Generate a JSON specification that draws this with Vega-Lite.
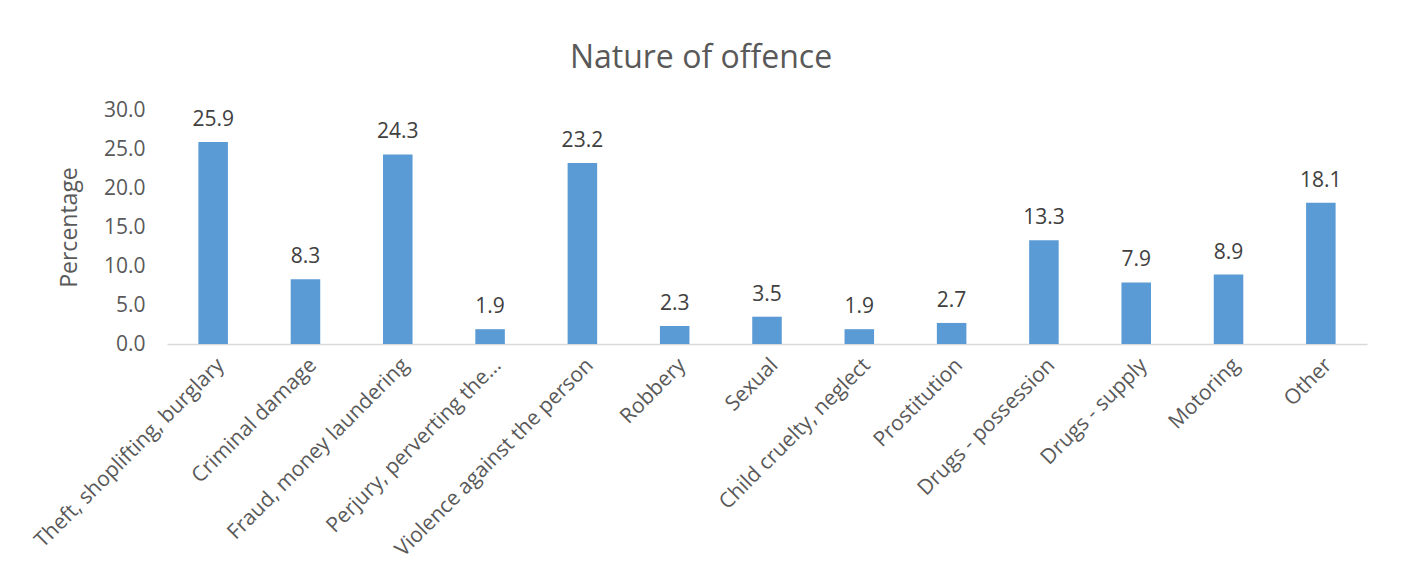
{
  "$schema": "https://vega.github.io/schema/vega-lite/v6.json",
  "width": 1200,
  "height": 234,
  "autosize": "none",
  "padding": {"left": 167, "top": 110, "right": 34, "bottom": 237},
  "background": "white",
  "config": {"view": {"stroke": null}, "font": "Open Sans"},
  "title": {
    "text": "Nature of offence",
    "fontSize": 32,
    "font": "Open Sans",
    "fontWeight": "normal",
    "color": "#595959",
    "anchor": "middle",
    "dx": -66,
    "offset": 24
  },
  "data": {
    "values": [
      {"offence": "Theft, shoplifting, burglary", "pct": 25.9},
      {"offence": "Criminal damage", "pct": 8.3},
      {"offence": "Fraud, money laundering", "pct": 24.3},
      {"offence": "Perjury, perverting the...", "pct": 1.9},
      {"offence": "Violence against the person", "pct": 23.2},
      {"offence": "Robbery", "pct": 2.3},
      {"offence": "Sexual", "pct": 3.5},
      {"offence": "Child cruelty, neglect", "pct": 1.9},
      {"offence": "Prostitution", "pct": 2.7},
      {"offence": "Drugs - possession", "pct": 13.3},
      {"offence": "Drugs - supply", "pct": 7.9},
      {"offence": "Motoring", "pct": 8.9},
      {"offence": "Other", "pct": 18.1}
    ]
  },
  "encoding": {
    "x": {
      "field": "offence",
      "type": "nominal",
      "sort": null,
      "scale": {"paddingInner": 0.68, "paddingOuter": 0.34},
      "axis": {
        "title": null,
        "labelAngle": -45,
        "labelFontSize": 21,
        "labelColor": "#595959",
        "labelPadding": 10,
        "labelLimit": 400,
        "ticks": false,
        "domainColor": "#D9D9D9",
        "domainWidth": 1.5
      }
    },
    "y": {
      "field": "pct",
      "type": "quantitative",
      "scale": {"domain": [0, 30]},
      "axis": {
        "title": "Percentage",
        "titleFontSize": 23,
        "titleFontWeight": "normal",
        "titleColor": "#595959",
        "titlePadding": 22,
        "values": [0, 5, 10, 15, 20, 25, 30],
        "format": ".1f",
        "labelFontSize": 21,
        "labelColor": "#595959",
        "labelPadding": 22,
        "grid": false,
        "domain": false,
        "ticks": false
      }
    }
  },
  "layer": [
    {"mark": {"type": "bar", "color": "#5B9BD5"}},
    {
      "mark": {"type": "text", "baseline": "bottom", "dy": -12, "fontSize": 21, "color": "#404040"},
      "encoding": {"text": {"field": "pct", "type": "quantitative", "format": ".1f"}}
    }
  ]
}
